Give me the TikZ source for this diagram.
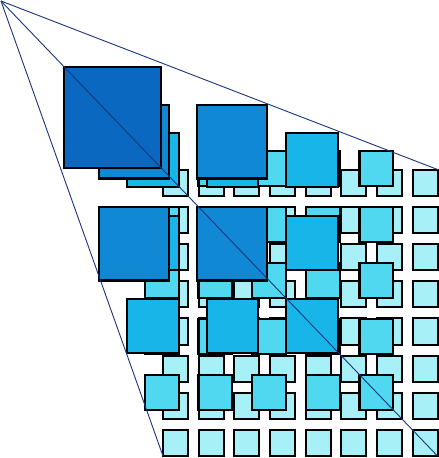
\documentclass[tikz,border=0pt]{standalone}
\usepackage{xcolor}
\usepackage{tikz}
\usetikzlibrary{positioning}

\definecolor{lvlA}{HTML}{A8F0F8}
\definecolor{lvlB}{HTML}{50D8F0}
\definecolor{lvlC}{HTML}{18B6E8}
\definecolor{lvlD}{HTML}{1088D4}
\definecolor{lvlE}{HTML}{0A68C0}
\definecolor{rayblue}{HTML}{1A3480}

\tikzset{
  cell/.style={draw=black, line width=2.1pt, inner sep=0pt, outer sep=0pt},
  ray/.style={draw=rayblue, line width=0.9pt},
}

\begin{document}
\begin{tikzpicture}[x=0.9585pt, y=-1pt]
\useasboundingbox (0,0) rectangle (458,458);
\coordinate (apex) at (1,1);

% layers, back to front: level/count/start x/start y/size/step/colour
\foreach \k/\n/\ox/\oy/\s/\d/\col in {0/8/169/168.5/28.3/37.2/lvlA,
    1/5/150/149.5/37.5/56/lvlB, 2/3/131.5/132/56/83/lvlC,
    3/2/102/104/75.5/102/lvlD, 4/1/66/65.5/103.5/0/lvlE}{
  \pgfmathsetmacro{\cw}{\s*0.9585-2.1}
  \pgfmathsetmacro{\ch}{\s-2.1}
  \foreach \i in {1,...,\n}{
    \foreach \j in {1,...,\n}{
      \node[cell, fill=\col, minimum width=\cw pt, minimum height=\ch pt]
        (sq-\k-\i-\j) at ({\ox+(\i-1)*\d+\s/2},{\oy+(\j-1)*\d+\s/2}) {};
    }
  }
}

% rays from the apex to the corners of the bottom grid
\draw[ray] (apex) -- (sq-0-8-1.north east);
\draw[ray] (apex) -- (sq-0-1-8.south west);
\draw[ray] (apex) -- (sq-0-8-8.south east);

\end{tikzpicture}
\end{document}
